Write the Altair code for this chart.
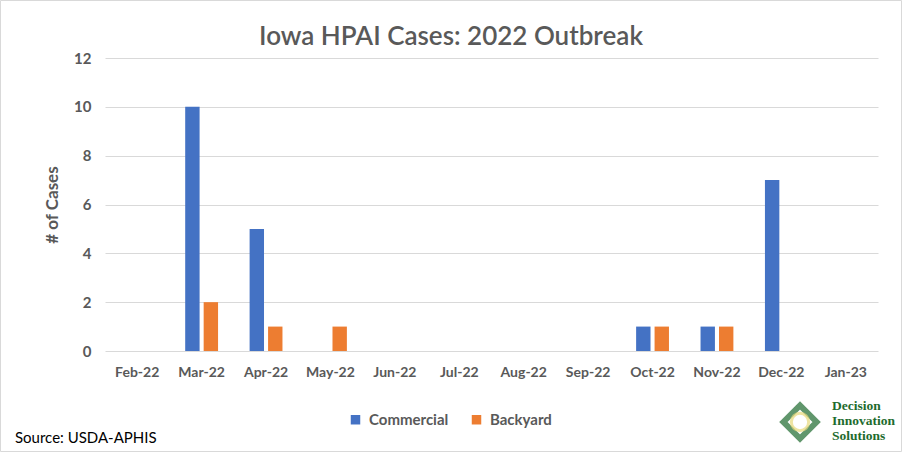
import altair as alt
import pandas as pd

months = ["Feb-22", "Mar-22", "Apr-22", "May-22", "Jun-22", "Jul-22",
          "Aug-22", "Sep-22", "Oct-22", "Nov-22", "Dec-22", "Jan-23"]
commercial = [0, 10, 5, 0, 0, 0, 0, 0, 1, 1, 7, 0]
backyard = [0, 2, 1, 1, 0, 0, 0, 0, 1, 1, 0, 0]
series = ["Commercial", "Backyard"]
colors = ["#4472C4", "#ED7D31"]

rows = []
for m, c, b in zip(months, commercial, backyard):
    rows.append({"Month": m, "Type": "Commercial", "Cases": c})
    rows.append({"Month": m, "Type": "Backyard", "Cases": b})
df = pd.DataFrame(rows)

FONT = "Lato"
GRAY = "#595959"

bars = alt.Chart(df).mark_bar().encode(
    x=alt.X("Month:N", sort=months,
            scale=alt.Scale(paddingInner=0.49, paddingOuter=0.245),
            axis=alt.Axis(title=None, labelAngle=0, domain=False, ticks=False,
                          labelFontSize=14, labelFontWeight="bold", labelColor=GRAY,
                          labelFont=FONT, labelPadding=14)),
    xOffset=alt.XOffset("Type:N", sort=series, scale=alt.Scale(paddingInner=0.22)),
    y=alt.Y("Cases:Q", scale=alt.Scale(domain=[0, 12]),
            axis=alt.Axis(title="# of Cases", values=[0, 2, 4, 6, 8, 10, 12],
                          domain=False, ticks=False, gridColor="#D9D9D9",
                          labelFontSize=15, labelFontWeight="bold", labelColor=GRAY,
                          labelFont=FONT, labelPadding=14,
                          titleFontSize=17, titleFontWeight="bold", titleColor=GRAY,
                          titleFont=FONT, titlePadding=12)),
    color=alt.Color("Type:N", sort=series,
                    scale=alt.Scale(domain=series, range=colors),
                    legend=alt.Legend(title=None, orient="none", direction="horizontal",
                                      legendX=243, legendY=354, symbolType="square",
                                      symbolSize=90, symbolStrokeWidth=0,
                                      labelFontSize=15, labelFontWeight="bold",
                                      labelColor=GRAY, labelFont=FONT,
                                      columnPadding=20, labelOffset=6)),
)

one = pd.DataFrame({"a": [0]})

border = alt.Chart(one).mark_rect(fill=None, stroke="#D9D9D9", strokeWidth=1).encode(
    x=alt.value(-104.5), x2=alt.value(796.5), y=alt.value(-57.5), y2=alt.value(393.5)
)

title = alt.Chart(one).mark_text(align="center", baseline="middle", fontSize=26,
                                 font=FONT, fontWeight=600, color=GRAY,
                                 text="Iowa HPAI Cases: 2022 Outbreak").encode(
    x=alt.value(346), y=alt.value(-21)
)

source = alt.Chart(one).mark_text(align="left", baseline="middle", fontSize=15,
                                  font=FONT, color="#000000", text="Source: USDA-APHIS").encode(
    x=alt.value(-90), y=alt.value(380)
)

logo_lines = pd.DataFrame({"t": ["Decision", "Innovation", "Solutions"], "k": [0, 1, 2]})
logo_text = alt.Chart(logo_lines).mark_text(align="left", baseline="middle", fontSize=13.5,
                                            font="Liberation Serif", fontWeight="bold",
                                            color="#1E6B2E").encode(
    x=alt.value(727),
    y=alt.Y("k:Q", scale=alt.Scale(domain=[0, 2], range=[348, 378]), axis=None),
    text="t:N",
)

logo_outer = alt.Chart(one).mark_point(shape="diamond", filled=False, stroke="#1E6B2E",
                                       strokeWidth=6, size=1100).encode(
    x=alt.value(695), y=alt.value(364)
)
logo_inner = alt.Chart(one).mark_point(shape="circle", filled=False, stroke="#E8D97A",
                                       strokeWidth=3, size=300).encode(
    x=alt.value(695), y=alt.value(364)
)

chart = alt.layer(border, bars, title, source, logo_outer, logo_inner, logo_text).resolve_scale(
    y="independent"
).properties(
    width=773, height=293,
    autosize=alt.AutoSizeParams(type="none"),
    padding={"left": 105, "top": 58, "right": 24, "bottom": 101},
).configure(background="#FFFFFF").configure_view(stroke=None)

chart.save("out.html", embed_options={"renderer": "svg", "actions": False})
